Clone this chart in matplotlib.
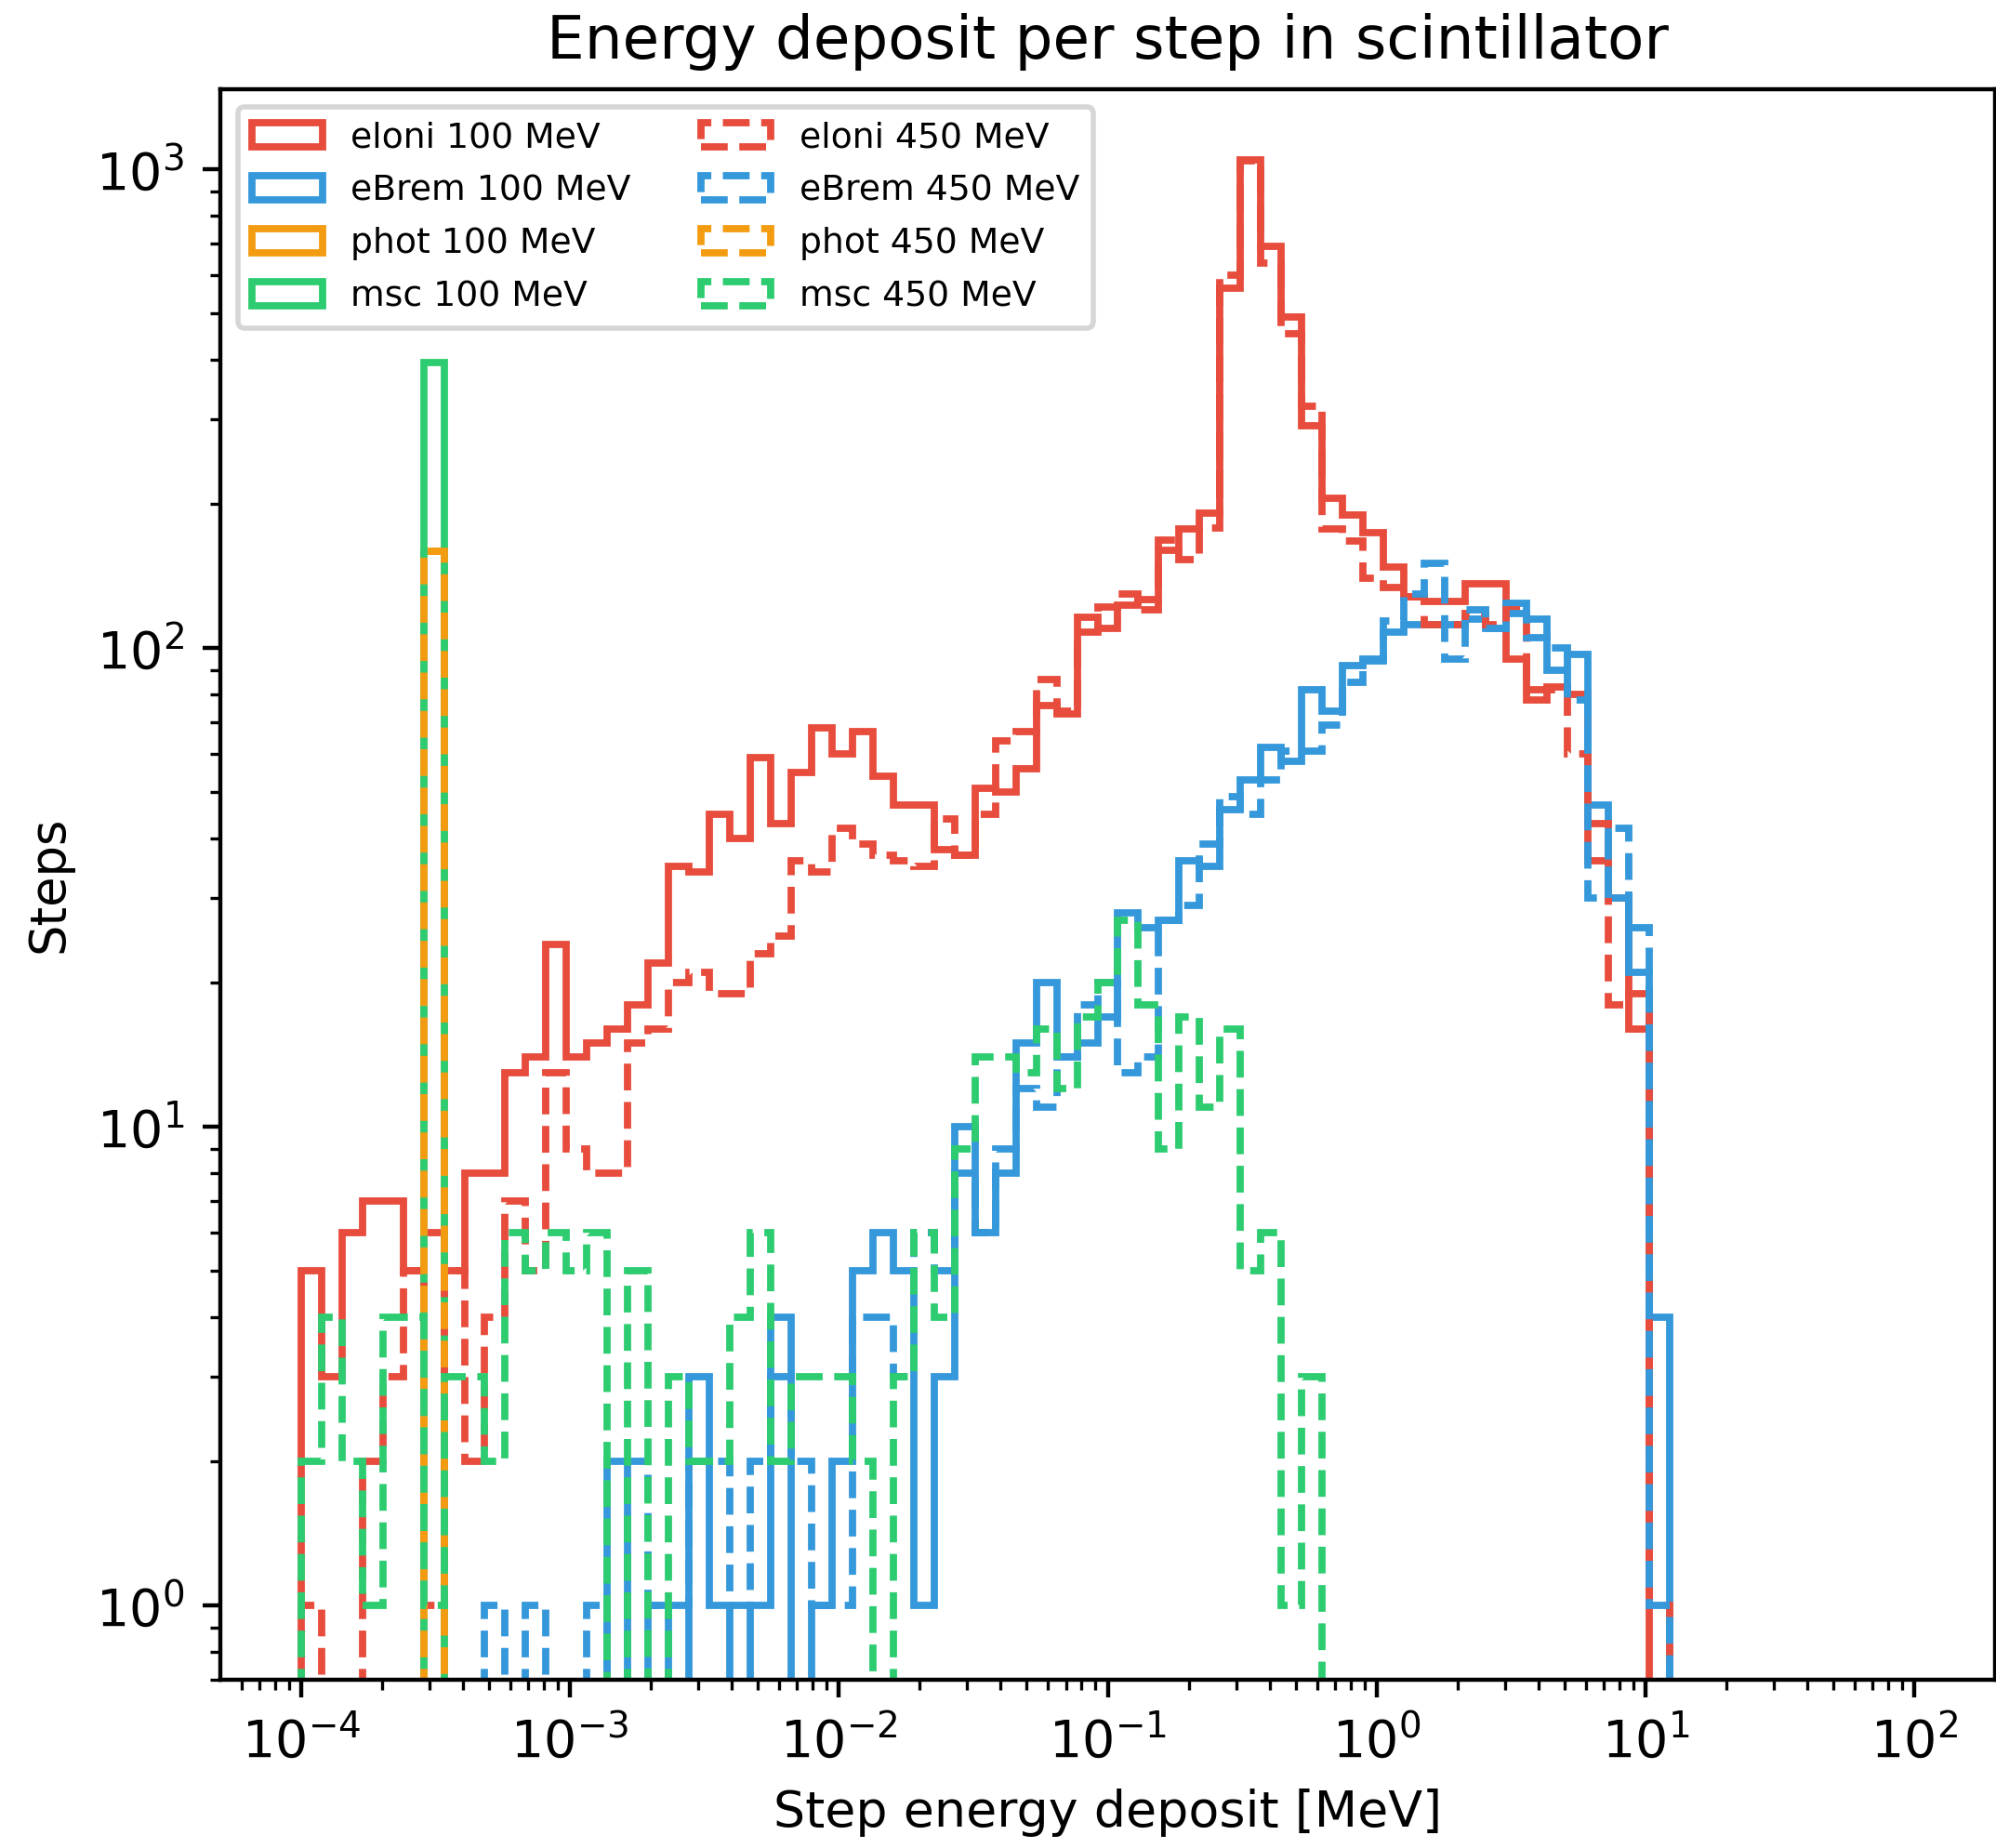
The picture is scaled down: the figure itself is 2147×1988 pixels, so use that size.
import numpy as np
import matplotlib
matplotlib.use("Agg")
import matplotlib.pyplot as plt

# log bins 1e-4 .. 1e2 MeV
edges = np.logspace(-4, 2, 80)
centers = np.sqrt(edges[:-1] * edges[1:])

# steps per bin (79 bins)
eloni_100 = [5, 3, 6, 7, 7, 5, 6, 5, 8, 8, 13, 14, 24, 14, 15, 16, 18, 22, 35, 34,
             45, 40, 59, 43, 55, 68, 60, 67, 54, 47, 47, 38, 37, 51, 50, 56, 76, 73, 116, 110,
             123, 126, 160, 177, 191, 565, 1045, 689, 491, 292, 206, 190, 174, 148, 128, 125, 125, 136, 136, 95,
             78, 83, 80, 36, 30, 16, 0, 0, 0, 0, 0, 0, 0, 0, 0, 0, 0, 0, 0]
ebrem_100 = [0, 0, 0, 0, 0, 0, 0, 0, 0, 0, 0, 0, 0, 0, 0, 2, 0, 1, 0, 3,
             1, 0, 1, 4, 0, 1, 2, 5, 6, 5, 1, 3, 10, 6, 8, 15, 20, 14, 15, 17,
             28, 26, 27, 36, 35, 46, 53, 62, 58, 82, 74, 92, 94, 108, 112, 112, 112, 115, 110, 124,
             115, 90, 97, 47, 30, 21, 4, 0, 0, 0, 0, 0, 0, 0, 0, 0, 0, 0, 0]
phot_100 = [0, 0, 0, 0, 0, 0, 159] + [0] * 72
msc_100 = [0, 0, 0, 0, 0, 0, 395] + [0] * 72

eloni_450 = [1, 0, 0, 2, 3, 5, 1, 5, 2, 4, 7, 5, 13, 9, 8, 8, 15, 16, 20, 21,
             19, 19, 23, 25, 36, 34, 42, 39, 37, 36, 35, 44, 37, 45, 64, 67, 86, 74, 108, 122,
             130, 120, 168, 153, 178, 600, 1040, 637, 453, 320, 177, 167, 140, 134, 128, 112, 112, 118, 112, 120,
             82, 82, 60, 43, 18, 19, 1, 0, 0, 0, 0, 0, 0, 0, 0, 0, 0, 0, 0]
ebrem_450 = [0, 0, 0, 0, 0, 0, 0, 0, 0, 1, 0, 1, 0, 0, 1, 0, 2, 1, 1, 2,
             2, 1, 2, 3, 2, 1, 1, 4, 4, 3, 6, 5, 8, 6, 9, 12, 11, 14, 18, 20,
             13, 14, 27, 29, 39, 49, 45, 53, 61, 61, 69, 85, 95, 114, 130, 150, 95, 120, 110, 118,
             105, 100, 78, 30, 42, 26, 1, 0, 0, 0, 0, 0, 0, 0, 0, 0, 0, 0, 0]
phot_450 = [0, 0, 0, 0, 0, 0, 159] + [0] * 72
msc_450 = [2, 4, 2, 1, 4, 4, 1, 3, 3, 2, 6, 5, 6, 5, 6, 0, 5, 0, 3, 2,
           2, 4, 6, 2, 3, 3, 3, 2, 0, 3, 6, 4, 9, 14, 14, 13, 16, 12, 17, 20,
           27, 18, 9, 17, 11, 16, 5, 6, 1, 3, 0, 0, 0, 0, 0, 0, 0, 0, 0, 0,
           0, 0, 0, 0, 0, 0, 0, 0, 0, 0, 0, 0, 0, 0, 0, 0, 0, 0, 0]

processes = ["eloni", "eBrem", "phot", "msc"]
colors = ["#e74c3c", "#3498db", "#f39c12", "#2ecc71"]
data_100 = [eloni_100, ebrem_100, phot_100, msc_100]
data_450 = [eloni_450, ebrem_450, phot_450, msc_450]

fig = plt.figure(figsize=(2147 / 400, 1988 / 400), dpi=400)
ax = fig.add_axes([237 / 2147, 1 - 1807 / 1988, 1909 / 2147, (1807 - 96) / 1988])

for name, col, counts in zip(processes, colors, data_100):
    ax.hist(centers, bins=edges, weights=counts, histtype="step", color=col,
            linestyle="-", linewidth=1.4, log=True, label=f"{name} 100 MeV")
for name, col, counts in zip(processes, colors, data_450):
    ax.hist(centers, bins=edges, weights=counts, histtype="step", color=col,
            linestyle="--", linewidth=1.4, log=True, label=f"{name} 450 MeV")

ax.set_xscale("log")
ax.set_xticks(10.0 ** np.arange(-4, 3))
ax.set_xlim(10 ** -4.3, 10 ** 2.3)
ax.set_ylim(0.7, 1470)
ax.set_xlabel("Step energy deposit [MeV]", fontsize=9.7)
ax.set_ylabel("Steps", fontsize=9.5)
ax.yaxis.set_label_coords(-0.083, 0.5)
ax.set_title("Energy deposit per step in scintillator", fontsize=11.6)
ax.legend(ncol=2, loc="upper left", fontsize=6.8, labelspacing=0.56)

fig.savefig("out.png", dpi=400)
